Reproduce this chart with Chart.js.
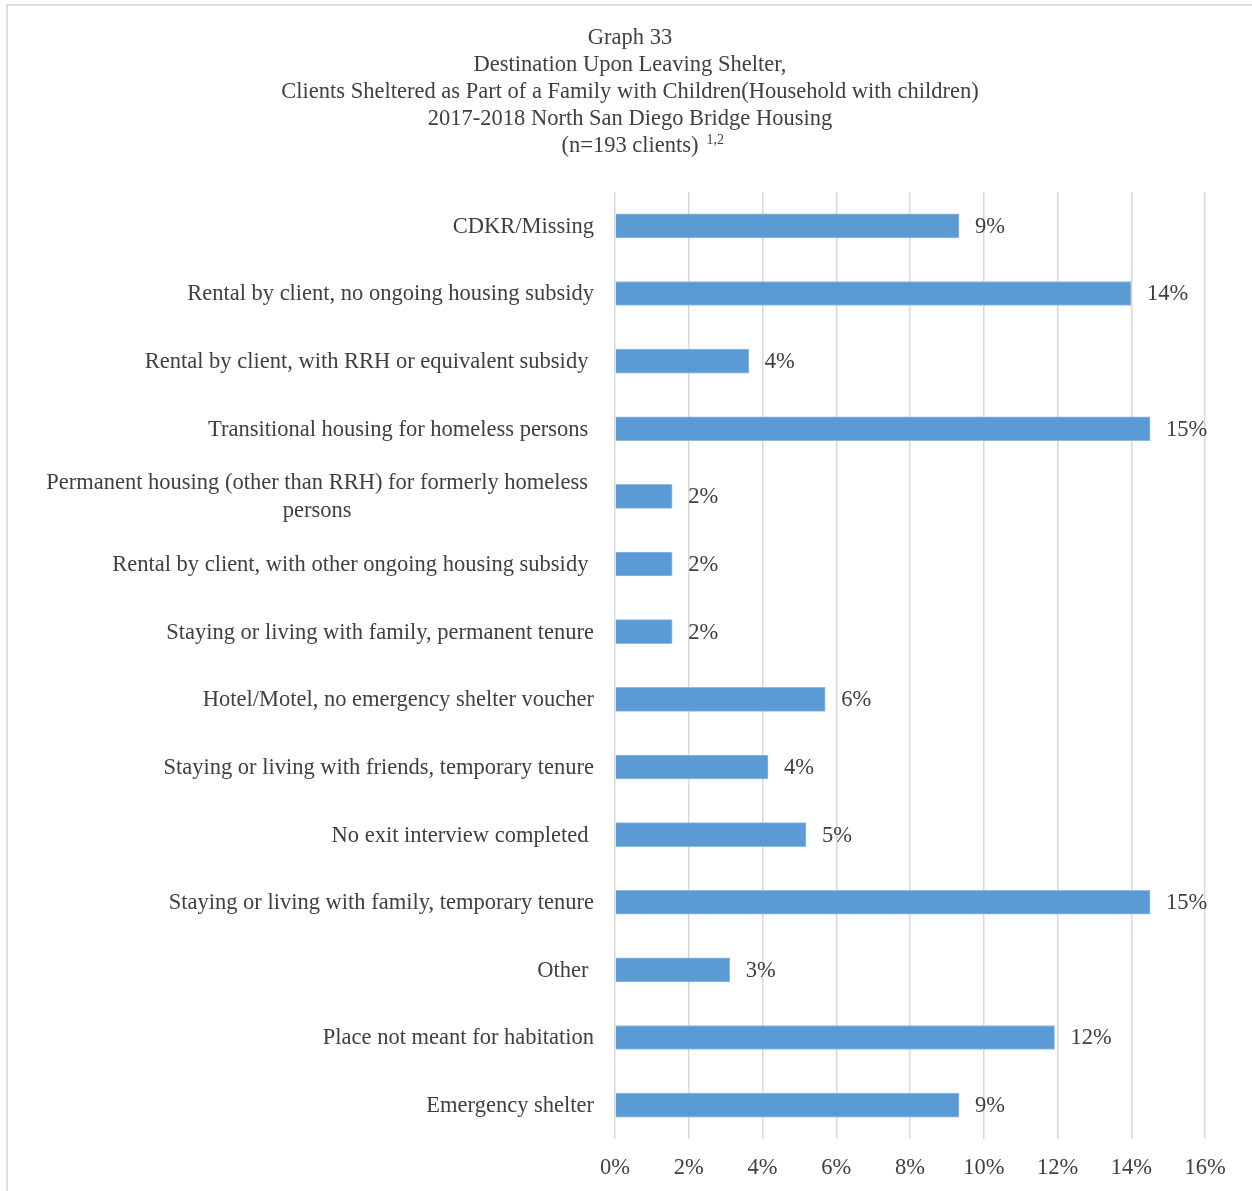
<!DOCTYPE html>
<html>
<head>
<meta charset="utf-8">
<script src="https://cdn.jsdelivr.net/npm/chart.js@4/dist/chart.umd.min.js"></script>
<style>
  html, body { margin: 0; padding: 0; background: #fff; overflow: hidden; }
  .wrap { position: relative; width: 1252px; height: 1191px; }
  .frame { position: absolute; left: 6px; top: 4px; width: 1300px; height: 1300px; border: 2px solid #dedede; box-sizing: border-box; }
  canvas { position: absolute; left: 0; top: 0; }
</style>
</head>
<body>
<div class="wrap">
  <div class="frame"></div>
  <canvas id="chart" width="1252" height="1191"></canvas>
</div>
<script>
const titleLines = [
  "Graph 33",
  "Destination Upon Leaving Shelter,",
  "Clients Sheltered as Part of a Family with Children(Household with children)",
  "2017-2018 North San Diego Bridge Housing",
  "(n=193 clients)"
];
const titleNote = "1,2";

const categories = [
  "CDKR/Missing",
  "Rental by client, no ongoing housing subsidy",
  "Rental by client, with RRH or equivalent subsidy ",
  "Transitional housing for homeless persons ",
  ["Permanent housing (other than RRH) for formerly homeless", "persons"],
  "Rental by client, with other ongoing housing subsidy ",
  "Staying or living with family, permanent tenure",
  "Hotel/Motel, no emergency shelter voucher",
  "Staying or living with friends, temporary tenure",
  "No exit interview completed ",
  "Staying or living with family, temporary tenure",
  "Other ",
  "Place not meant for habitation",
  "Emergency shelter"
];

// percent of 193 clients
const shares = [9.33, 13.99, 3.63, 14.51, 1.55, 1.55, 1.55, 5.70, 4.15, 5.18, 14.51, 3.11, 11.92, 9.33];

const xTicks = [0, 2, 4, 6, 8, 10, 12, 14, 16];

const FONT = "'Liberation Serif', 'DejaVu Serif', serif";
const SIZE = 22.5;
const TEXT = "#404040";

const textPlugin = {
  id: "texts",
  afterDatasetsDraw(chart) {
    const ctx = chart.ctx;
    const meta = chart.getDatasetMeta(0);
    ctx.save();
    ctx.font = SIZE + "px " + FONT;
    ctx.fillStyle = TEXT;
    ctx.textBaseline = "middle";
    ctx.textAlign = "left";
    meta.data.forEach((bar, i) => {
      ctx.fillText(Math.round(shares[i]) + "%", bar.x + 16, bar.y + 1);
    });

    // category labels, right aligned against the axis
    const y = chart.scales.y;
    const right = y.right - 21;
    categories.forEach((label, i) => {
      const py = y.getPixelForTick(i);
      if (Array.isArray(label)) {
        const w = Math.max(...label.map((l) => ctx.measureText(l).width));
        ctx.textAlign = "center";
        label.forEach((l, j) => {
          ctx.fillText(l, right - 6 - w / 2, py + 1 + (j - (label.length - 1) / 2) * 28);
        });
      } else {
        ctx.textAlign = "right";
        ctx.fillText(label, right, py + 1);
      }
    });
    ctx.restore();
  },
  afterDraw(chart) {
    const ctx = chart.ctx;
    const cx = 630;
    ctx.save();
    ctx.font = SIZE + "px " + FONT;
    ctx.fillStyle = TEXT;
    ctx.textAlign = "center";
    ctx.textBaseline = "middle";
    titleLines.forEach((line, i) => ctx.fillText(line, cx, 38 + i * 27));
    const w = ctx.measureText(titleLines[titleLines.length - 1]).width;
    ctx.font = "14px " + FONT;
    ctx.textAlign = "left";
    ctx.fillText(titleNote, cx + w / 2 + 8, 38 + (titleLines.length - 1) * 27 - 6);
    ctx.restore();
  }
};

new Chart(document.getElementById("chart"), {
  type: "bar",
  data: {
    labels: categories,
    datasets: [{
      data: shares,
      backgroundColor: "#5B9BD5",
      borderColor: "#8DB9E3",
      borderWidth: 1,
      borderSkipped: "left",
      barThickness: 24
    }]
  },
  options: {
    indexAxis: "y",
    responsive: false,
    animation: false,
    layout: { padding: { top: 192, left: 8, right: 47, bottom: 0 } },
    plugins: {
      legend: { display: false },
      tooltip: { enabled: false },
      title: { display: false }
    },
    scales: {
      x: {
        min: 0,
        max: 16,
        afterBuildTicks(scale) { scale.ticks = xTicks.map((v) => ({ value: v })); },
        afterFit(scale) { scale.height = 52; },
        grid: { color: "#d9d9d9", lineWidth: 1.5, drawTicks: false },
        border: { display: false },
        ticks: {
          padding: 16,
          color: TEXT,
          font: { family: FONT, size: SIZE },
          callback: (v) => v + "%"
        }
      },
      y: {
        afterFit(scale) { scale.width = 607; },
        grid: { display: false },
        border: { display: false },
        ticks: { display: false }
      }
    }
  },
  plugins: [textPlugin]
});
</script>
</body>
</html>
